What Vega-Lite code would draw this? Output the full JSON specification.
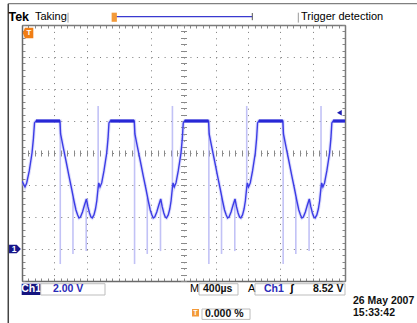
{
  "$schema": "https://vega.github.io/schema/vega-lite/v6.json",
  "width": 323,
  "height": 256,
  "autosize": "none",
  "padding": {"left": 22, "top": 25, "right": 72, "bottom": 42},
  "background": "white",
  "config": {"view": {"stroke": null}, "text": {"font": "Liberation Sans"}},
  "datasets": {
    "one": [{}],
    "trace": [
      {"t": 0, "v": 4.25}, {"t": 37, "v": 3.88}, {"t": 58, "v": 4.13}, {"t": 90, "v": 4.88}, {"t": 124, "v": 6.0}, {"t": 141, "v": 6.88}, {"t": 155, "v": 7.88},
      {"t": 173, "v": 8.0}, {"t": 470, "v": 8.0}, {"t": 478, "v": 7.19}, {"t": 507, "v": 6.44}, {"t": 545, "v": 5.5}, {"t": 582, "v": 4.56}, {"t": 615, "v": 3.75}, {"t": 644, "v": 3.0}, {"t": 668, "v": 2.44}, {"t": 689, "v": 2.13}, {"t": 706, "v": 1.94}, {"t": 724, "v": 2.0}, {"t": 749, "v": 2.31}, {"t": 774, "v": 2.75}, {"t": 798, "v": 3.13}, {"t": 817, "v": 2.63}, {"t": 836, "v": 2.25}, {"t": 854, "v": 2.0}, {"t": 870, "v": 1.94}, {"t": 891, "v": 2.13}, {"t": 910, "v": 2.5}, {"t": 926, "v": 3.0}, {"t": 941, "v": 3.75}, {"t": 951, "v": 4.13}, {"t": 966, "v": 3.88}, {"t": 987, "v": 4.13}, {"t": 1015, "v": 4.88}, {"t": 1049, "v": 6.0}, {"t": 1065, "v": 6.88}, {"t": 1077, "v": 7.88},
      {"t": 1093, "v": 8.0}, {"t": 1390, "v": 8.0}, {"t": 1398, "v": 7.19}, {"t": 1427, "v": 6.44}, {"t": 1465, "v": 5.5}, {"t": 1502, "v": 4.56}, {"t": 1535, "v": 3.75}, {"t": 1564, "v": 3.0}, {"t": 1588, "v": 2.44}, {"t": 1609, "v": 2.13}, {"t": 1626, "v": 1.94}, {"t": 1644, "v": 2.0}, {"t": 1669, "v": 2.31}, {"t": 1694, "v": 2.75}, {"t": 1718, "v": 3.13}, {"t": 1737, "v": 2.63}, {"t": 1756, "v": 2.25}, {"t": 1774, "v": 2.0}, {"t": 1790, "v": 1.94}, {"t": 1811, "v": 2.13}, {"t": 1830, "v": 2.5}, {"t": 1846, "v": 3.0}, {"t": 1861, "v": 3.75}, {"t": 1871, "v": 4.13}, {"t": 1886, "v": 3.88}, {"t": 1907, "v": 4.13}, {"t": 1935, "v": 4.88}, {"t": 1969, "v": 6.0}, {"t": 1985, "v": 6.88}, {"t": 1997, "v": 7.88},
      {"t": 2013, "v": 8.0}, {"t": 2310, "v": 8.0}, {"t": 2318, "v": 7.19}, {"t": 2347, "v": 6.44}, {"t": 2385, "v": 5.5}, {"t": 2422, "v": 4.56}, {"t": 2455, "v": 3.75}, {"t": 2484, "v": 3.0}, {"t": 2508, "v": 2.44}, {"t": 2529, "v": 2.13}, {"t": 2546, "v": 1.94}, {"t": 2564, "v": 2.0}, {"t": 2589, "v": 2.31}, {"t": 2614, "v": 2.75}, {"t": 2638, "v": 3.13}, {"t": 2657, "v": 2.63}, {"t": 2676, "v": 2.25}, {"t": 2694, "v": 2.0}, {"t": 2710, "v": 1.94}, {"t": 2731, "v": 2.13}, {"t": 2750, "v": 2.5}, {"t": 2766, "v": 3.0}, {"t": 2781, "v": 3.75}, {"t": 2791, "v": 4.13}, {"t": 2806, "v": 3.88}, {"t": 2827, "v": 4.13}, {"t": 2855, "v": 4.88}, {"t": 2889, "v": 6.0}, {"t": 2905, "v": 6.88}, {"t": 2917, "v": 7.88},
      {"t": 2933, "v": 8.0}, {"t": 3230, "v": 8.0}, {"t": 3238, "v": 7.19}, {"t": 3267, "v": 6.44}, {"t": 3305, "v": 5.5}, {"t": 3342, "v": 4.56}, {"t": 3375, "v": 3.75}, {"t": 3404, "v": 3.0}, {"t": 3428, "v": 2.44}, {"t": 3449, "v": 2.13}, {"t": 3466, "v": 1.94}, {"t": 3484, "v": 2.0}, {"t": 3509, "v": 2.31}, {"t": 3534, "v": 2.75}, {"t": 3558, "v": 3.13}, {"t": 3577, "v": 2.63}, {"t": 3596, "v": 2.25}, {"t": 3614, "v": 2.0}, {"t": 3630, "v": 1.94}, {"t": 3651, "v": 2.13}, {"t": 3670, "v": 2.5}, {"t": 3686, "v": 3.0}, {"t": 3701, "v": 3.75}, {"t": 3711, "v": 4.13}, {"t": 3726, "v": 3.88}, {"t": 3747, "v": 4.13}, {"t": 3775, "v": 4.88}, {"t": 3809, "v": 6.0}, {"t": 3825, "v": 6.88}, {"t": 3837, "v": 7.88},
      {"t": 3853, "v": 8.0}, {"t": 4000, "v": 8.0}
    ],
    "flats": [
      {"t1": 173, "t2": 470, "v": 8.0},
      {"t1": 1093, "t2": 1390, "v": 8.0},
      {"t1": 2013, "t2": 2310, "v": 8.0},
      {"t1": 2933, "t2": 3230, "v": 8.0},
      {"t1": 3853, "t2": 4000, "v": 8.0}
    ],
    "spikes": [
      {"t": 474, "v1": 8.0, "v2": -0.94}, {"t": 631, "v1": 3.2, "v2": -0.31}, {"t": 795, "v1": 3.1, "v2": -0.13}, {"t": 943, "v1": 3.8, "v2": 8.94},
      {"t": 1394, "v1": 8.0, "v2": -0.94}, {"t": 1551, "v1": 3.2, "v2": -0.31}, {"t": 1715, "v1": 3.1, "v2": -0.13}, {"t": 1863, "v1": 3.8, "v2": 8.94},
      {"t": 2314, "v1": 8.0, "v2": -0.94}, {"t": 2471, "v1": 3.2, "v2": -0.31}, {"t": 2635, "v1": 3.1, "v2": -0.13}, {"t": 2783, "v1": 3.8, "v2": 8.94},
      {"t": 3234, "v1": 8.0, "v2": -0.94}, {"t": 3391, "v1": 3.2, "v2": -0.31}, {"t": 3555, "v1": 3.1, "v2": -0.13}, {"t": 3703, "v1": 3.8, "v2": 8.94}
    ]
  },
  "resolve": {"axis": {"x": "independent", "y": "independent"}},
  "layer": [
    {
      "data": {"name": "trace"},
      "mark": {"type": "line", "stroke": "#b8b8f6", "strokeWidth": 3.5, "opacity": 0.45, "clip": true},
      "encoding": {
        "x": {"field": "t", "type": "quantitative", "scale": {"domain": [0, 4000], "nice": false, "zero": false},
          "axis": {"orient": "bottom", "title": null, "labels": false, "domain": true, "domainColor": "#6a6a6a", "domainWidth": 1.5,
            "values": [0,80,160,240,320,400,480,560,640,720,800,880,960,1040,1120,1200,1280,1360,1440,1520,1600,1680,1760,1840,1920,2000,2080,2160,2240,2320,2400,2480,2560,2640,2720,2800,2880,2960,3040,3120,3200,3280,3360,3440,3520,3600,3680,3760,3840,3920,4000],
            "ticks": true, "tickSize": -3, "tickColor": "#888", "tickWidth": 1,
            "grid": true, "gridColor": "#7a7a7a", "gridWidth": 1, "gridDash": [1, 5.4],
            "gridOpacity": {"condition": {"test": "abs(datum.value/400 - round(datum.value/400)) < 0.001", "value": 1}, "value": 0}}},
        "y": {"field": "v", "type": "quantitative", "scale": {"domain": [-2, 14], "nice": false, "zero": false},
          "axis": {"orient": "left", "title": null, "labels": false, "domain": true, "domainColor": "#6a6a6a", "domainWidth": 1.5,
            "values": [-2,-1.6,-1.2,-0.8,-0.4,0,0.4,0.8,1.2,1.6,2,2.4,2.8,3.2,3.6,4,4.4,4.8,5.2,5.6,6,6.4,6.8,7.2,7.6,8,8.4,8.8,9.2,9.6,10,10.4,10.8,11.2,11.6,12,12.4,12.8,13.2,13.6,14],
            "ticks": true, "tickSize": -3, "tickColor": "#888", "tickWidth": 1,
            "grid": true, "gridColor": "#7a7a7a", "gridWidth": 1, "gridDash": [1, 5.46],
            "gridOpacity": {"condition": {"test": "abs(datum.value/2 - round(datum.value/2)) < 0.001", "value": 1}, "value": 0}}}
      }
    },
    {
      "data": {"name": "spikes"},
      "mark": {"type": "rule", "stroke": "#a8a8f2", "strokeWidth": 1.6, "opacity": 0.7},
      "encoding": {
        "x": {"field": "t", "type": "quantitative",
          "axis": {"orient": "top", "title": null, "labels": false, "domain": true, "domainColor": "#7a7a7a", "domainWidth": 1.5,
            "values": [0,80,160,240,320,400,480,560,640,720,800,880,960,1040,1120,1200,1280,1360,1440,1520,1600,1680,1760,1840,1920,2000,2080,2160,2240,2320,2400,2480,2560,2640,2720,2800,2880,2960,3040,3120,3200,3280,3360,3440,3520,3600,3680,3760,3840,3920,4000],
            "ticks": true, "tickSize": -3, "tickColor": "#888", "grid": false}},
        "y": {"field": "v1", "type": "quantitative",
          "axis": {"orient": "right", "title": null, "labels": false, "domain": true, "domainColor": "#7a7a7a", "domainWidth": 1.5,
            "values": [-2,-1.6,-1.2,-0.8,-0.4,0,0.4,0.8,1.2,1.6,2,2.4,2.8,3.2,3.6,4,4.4,4.8,5.2,5.6,6,6.4,6.8,7.2,7.6,8,8.4,8.8,9.2,9.6,10,10.4,10.8,11.2,11.6,12,12.4,12.8,13.2,13.6,14],
            "ticks": true, "tickSize": -3, "tickColor": "#888", "grid": false}},
        "y2": {"field": "v2"}
      }
    },
    {
      "data": {"name": "trace"},
      "mark": {"type": "line", "stroke": "#3c3ce6", "strokeWidth": 1.4, "clip": true},
      "encoding": {
        "x": {"field": "t", "type": "quantitative", "axis": null},
        "y": {"field": "v", "type": "quantitative", "axis": null}
      }
    },
    {
      "data": {"name": "flats"},
      "mark": {"type": "rule", "stroke": "#2828d6", "strokeWidth": 3.2},
      "encoding": {
        "x": {"field": "t1", "type": "quantitative",
          "axis": {"orient": "bottom", "offset": -131, "title": null, "labels": false, "domain": false, "grid": false,
            "values": [0,80,160,240,320,400,480,560,640,720,800,880,960,1040,1120,1200,1280,1360,1440,1520,1600,1680,1760,1840,1920,2000,2080,2160,2240,2320,2400,2480,2560,2640,2720,2800,2880,2960,3040,3120,3200,3280,3360,3440,3520,3600,3680,3760,3840,3920,4000],
            "ticks": true, "tickSize": 6, "tickColor": "#8a8a8a"}},
        "x2": {"field": "t2"},
        "y": {"field": "v", "type": "quantitative",
          "axis": {"orient": "left", "offset": -164.5, "title": null, "labels": false, "domain": false, "grid": false,
            "values": [-2,-1.6,-1.2,-0.8,-0.4,0,0.4,0.8,1.2,1.6,2,2.4,2.8,3.2,3.6,4,4.4,4.8,5.2,5.6,6,6.4,6.8,7.2,7.6,8,8.4,8.8,9.2,9.6,10,10.4,10.8,11.2,11.6,12,12.4,12.8,13.2,13.6,14],
            "ticks": true, "tickSize": 6, "tickColor": "#8a8a8a"}}
      }
    },
    {
      "data": {"name": "one"},
      "mark": {"type": "rule", "stroke": "#808080", "strokeWidth": 1.2},
      "encoding": {"x": {"datum": -170, "type": "quantitative", "axis": null}, "x2": {"datum": 4900}, "y": {"datum": 15.33, "type": "quantitative", "axis": null}}
    },
    {
      "data": {"name": "one"},
      "mark": {"type": "rule", "stroke": "#444444", "strokeWidth": 1.5},
      "encoding": {"x": {"datum": -170, "type": "quantitative", "axis": null}, "y": {"datum": 15.33, "type": "quantitative", "axis": null}, "y2": {"datum": -4.7}}
    },
    {
      "data": {"name": "one"},
      "mark": {"type": "text", "text": "Tek", "fontWeight": "bold", "fontSize": 12.5, "align": "left", "baseline": "middle", "color": "#000"},
      "encoding": {"x": {"datum": -168, "type": "quantitative", "axis": null}, "y": {"datum": 14.5, "type": "quantitative", "axis": null}}
    },
    {
      "data": {"name": "one"},
      "mark": {"type": "text", "text": "Taking", "fontSize": 11, "align": "left", "baseline": "middle", "color": "#000"},
      "encoding": {"x": {"datum": 161, "type": "quantitative", "axis": null}, "y": {"datum": 14.5, "type": "quantitative", "axis": null}}
    },
    {
      "data": {"name": "one"},
      "mark": {"type": "rule", "stroke": "#999", "strokeWidth": 1},
      "encoding": {"x": {"datum": 570, "type": "quantitative", "axis": null}, "y": {"datum": 14.77, "type": "quantitative", "axis": null}, "y2": {"datum": 14.15}}
    },
    {
      "data": {"name": "one"},
      "mark": {"type": "rule", "stroke": "#999", "strokeWidth": 1},
      "encoding": {"x": {"datum": 3422, "type": "quantitative", "axis": null}, "y": {"datum": 14.77, "type": "quantitative", "axis": null}, "y2": {"datum": 14.15}}
    },
    {
      "data": {"name": "one"},
      "mark": {"type": "rule", "stroke": "#3a3ad0", "strokeWidth": 1.3},
      "encoding": {"x": {"datum": 1152, "type": "quantitative", "axis": null}, "x2": {"datum": 2852}, "y": {"datum": 14.52, "type": "quantitative", "axis": null}}
    },
    {
      "data": {"name": "one"},
      "mark": {"type": "rule", "stroke": "#555", "strokeWidth": 1},
      "encoding": {"x": {"datum": 2852, "type": "quantitative", "axis": null}, "y": {"datum": 14.75, "type": "quantitative", "axis": null}, "y2": {"datum": 14.3}}
    },
    {
      "data": {"name": "one"},
      "mark": {"type": "rect", "fill": "#f39a3a"},
      "encoding": {"x": {"datum": 1110, "type": "quantitative", "axis": null}, "x2": {"datum": 1175}, "y": {"datum": 14.77, "type": "quantitative", "axis": null}, "y2": {"datum": 14.2}}
    },
    {
      "data": {"name": "one"},
      "mark": {"type": "text", "text": "Trigger detection", "fontSize": 11, "align": "left", "baseline": "middle", "color": "#000"},
      "encoding": {"x": {"datum": 3455, "type": "quantitative", "axis": null}, "y": {"datum": 14.5, "type": "quantitative", "axis": null}}
    },
    {
      "data": {"name": "one"},
      "mark": {"type": "point", "shape": "M-0.6,-1L1,-1L1,1L-0.6,1L-1,0Z", "filled": true, "fill": "#f07d14", "size": 110, "opacity": 1},
      "encoding": {"x": {"datum": 75, "type": "quantitative", "axis": null}, "y": {"datum": 13.5, "type": "quantitative", "axis": null}}
    },
    {
      "data": {"name": "one"},
      "mark": {"type": "text", "text": "T", "fontWeight": "bold", "fontSize": 8, "align": "center", "baseline": "middle", "color": "#fff"},
      "encoding": {"x": {"datum": 85, "type": "quantitative", "axis": null}, "y": {"datum": 13.5, "type": "quantitative", "axis": null}}
    },
    {
      "data": {"name": "one"},
      "mark": {"type": "point", "shape": "triangle-left", "filled": true, "fill": "#1c1cb0", "size": 30, "opacity": 1},
      "encoding": {"x": {"datum": 3930, "type": "quantitative", "axis": null}, "y": {"datum": 8.52, "type": "quantitative", "axis": null}}
    },
    {
      "data": {"name": "one"},
      "mark": {"type": "point", "shape": "M-1,-0.7L0.3,-0.7L1,0L0.3,0.7L-1,0.7Z", "filled": true, "fill": "#16168a", "size": 140, "opacity": 1},
      "encoding": {"x": {"datum": -87, "type": "quantitative", "axis": null}, "y": {"datum": 0, "type": "quantitative", "axis": null}}
    },
    {
      "data": {"name": "one"},
      "mark": {"type": "text", "text": "1", "fontWeight": "bold", "fontSize": 8.5, "align": "center", "baseline": "middle", "color": "#fff"},
      "encoding": {"x": {"datum": -98, "type": "quantitative", "axis": null}, "y": {"datum": 0, "type": "quantitative", "axis": null}}
    },
    {
      "data": {"name": "one"},
      "mark": {"type": "rect", "fill": "#14147f"},
      "encoding": {"x": {"datum": -4, "type": "quantitative", "axis": null}, "x2": {"datum": 232}, "y": {"datum": -2.17, "type": "quantitative", "axis": null}, "y2": {"datum": -2.875}}
    },
    {
      "data": {"name": "one"},
      "mark": {"type": "text", "text": "Ch1", "fontWeight": "bold", "fontSize": 10.5, "align": "center", "baseline": "middle", "color": "#fff"},
      "encoding": {"x": {"datum": 114, "type": "quantitative", "axis": null}, "y": {"datum": -2.53, "type": "quantitative", "axis": null}}
    },
    {
      "data": {"name": "one"},
      "mark": {"type": "rect", "fill": null, "fillOpacity": 0, "stroke": "#bdbdbd", "strokeWidth": 1},
      "encoding": {"x": {"datum": 232, "type": "quantitative", "axis": null}, "x2": {"datum": 1028}, "y": {"datum": -2.17, "type": "quantitative", "axis": null}, "y2": {"datum": -2.875}}
    },
    {
      "data": {"name": "one"},
      "mark": {"type": "text", "text": "2.00 V", "fontWeight": "bold", "fontSize": 10.5, "align": "left", "baseline": "middle", "color": "#2a2ab8"},
      "encoding": {"x": {"datum": 384, "type": "quantitative", "axis": null}, "y": {"datum": -2.53, "type": "quantitative", "axis": null}}
    },
    {
      "data": {"name": "one"},
      "mark": {"type": "text", "text": "M", "fontSize": 11, "align": "left", "baseline": "middle", "color": "#000"},
      "encoding": {"x": {"datum": 2081, "type": "quantitative", "axis": null}, "y": {"datum": -2.53, "type": "quantitative", "axis": null}}
    },
    {
      "data": {"name": "one"},
      "mark": {"type": "rect", "fill": null, "fillOpacity": 0, "stroke": "#bdbdbd", "strokeWidth": 1},
      "encoding": {"x": {"datum": 2192, "type": "quantitative", "axis": null}, "x2": {"datum": 2675}, "y": {"datum": -2.17, "type": "quantitative", "axis": null}, "y2": {"datum": -2.875}}
    },
    {
      "data": {"name": "one"},
      "mark": {"type": "text", "text": "400µs", "fontWeight": "bold", "fontSize": 10.5, "align": "left", "baseline": "middle", "color": "#111"},
      "encoding": {"x": {"datum": 2241, "type": "quantitative", "axis": null}, "y": {"datum": -2.53, "type": "quantitative", "axis": null}}
    },
    {
      "data": {"name": "one"},
      "mark": {"type": "text", "text": "A", "fontSize": 11, "align": "left", "baseline": "middle", "color": "#000"},
      "encoding": {"x": {"datum": 2799, "type": "quantitative", "axis": null}, "y": {"datum": -2.53, "type": "quantitative", "axis": null}}
    },
    {
      "data": {"name": "one"},
      "mark": {"type": "rect", "fill": null, "fillOpacity": 0, "stroke": "#bdbdbd", "strokeWidth": 1},
      "encoding": {"x": {"datum": 2885, "type": "quantitative", "axis": null}, "x2": {"datum": 4000}, "y": {"datum": -2.17, "type": "quantitative", "axis": null}, "y2": {"datum": -2.875}}
    },
    {
      "data": {"name": "one"},
      "mark": {"type": "text", "text": "Ch1", "fontWeight": "bold", "fontSize": 10.5, "align": "left", "baseline": "middle", "color": "#2a2ab8"},
      "encoding": {"x": {"datum": 2997, "type": "quantitative", "axis": null}, "y": {"datum": -2.53, "type": "quantitative", "axis": null}}
    },
    {
      "data": {"name": "one"},
      "mark": {"type": "text", "text": "ʃ", "fontWeight": "bold", "fontSize": 11, "align": "center", "baseline": "middle", "color": "#000"},
      "encoding": {"x": {"datum": 3340, "type": "quantitative", "axis": null}, "y": {"datum": -2.53, "type": "quantitative", "axis": null}}
    },
    {
      "data": {"name": "one"},
      "mark": {"type": "text", "text": "8.52 V", "fontWeight": "bold", "fontSize": 10.5, "align": "left", "baseline": "middle", "color": "#111"},
      "encoding": {"x": {"datum": 3604, "type": "quantitative", "axis": null}, "y": {"datum": -2.53, "type": "quantitative", "axis": null}}
    },
    {
      "data": {"name": "one"},
      "mark": {"type": "rect", "fill": "#f39a3a"},
      "encoding": {"x": {"datum": 2105, "type": "quantitative", "axis": null}, "x2": {"datum": 2192}, "y": {"datum": -3.75, "type": "quantitative", "axis": null}, "y2": {"datum": -4.22}}
    },
    {
      "data": {"name": "one"},
      "mark": {"type": "text", "text": "T", "fontWeight": "bold", "fontSize": 7, "align": "center", "baseline": "middle", "color": "#fff"},
      "encoding": {"x": {"datum": 2148, "type": "quantitative", "axis": null}, "y": {"datum": -3.98, "type": "quantitative", "axis": null}}
    },
    {
      "data": {"name": "one"},
      "mark": {"type": "rect", "fill": null, "fillOpacity": 0, "stroke": "#bdbdbd", "strokeWidth": 1},
      "encoding": {"x": {"datum": 2229, "type": "quantitative", "axis": null}, "x2": {"datum": 2824}, "y": {"datum": -3.75, "type": "quantitative", "axis": null}, "y2": {"datum": -4.4}}
    },
    {
      "data": {"name": "one"},
      "mark": {"type": "text", "text": "0.000 %", "fontWeight": "bold", "fontSize": 10.5, "align": "left", "baseline": "middle", "color": "#111"},
      "encoding": {"x": {"datum": 2266, "type": "quantitative", "axis": null}, "y": {"datum": -4.07, "type": "quantitative", "axis": null}}
    },
    {
      "data": {"name": "one"},
      "mark": {"type": "text", "text": "26 May 2007", "fontWeight": "bold", "fontSize": 10.5, "align": "left", "baseline": "middle", "color": "#111"},
      "encoding": {"x": {"datum": 4099, "type": "quantitative", "axis": null}, "y": {"datum": -3.25, "type": "quantitative", "axis": null}}
    },
    {
      "data": {"name": "one"},
      "mark": {"type": "text", "text": "15:33:42", "fontWeight": "bold", "fontSize": 10.5, "align": "left", "baseline": "middle", "color": "#111"},
      "encoding": {"x": {"datum": 4099, "type": "quantitative", "axis": null}, "y": {"datum": -4.0, "type": "quantitative", "axis": null}}
    }
  ]
}
